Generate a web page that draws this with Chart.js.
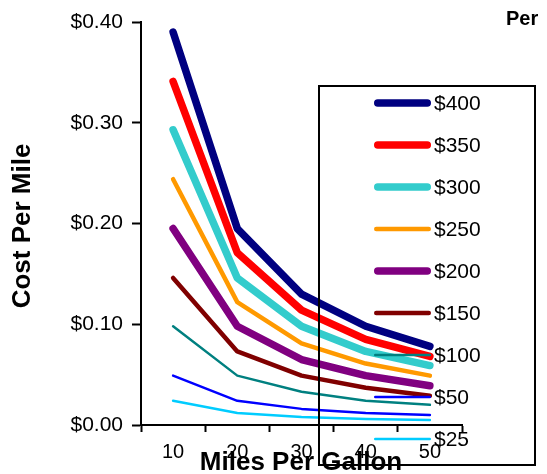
<!DOCTYPE html>
<html>
<head>
<meta charset="utf-8">
<script src="https://cdn.jsdelivr.net/npm/chart.js@4/dist/chart.umd.min.js"></script>
<style>
  html, body { margin: 0; padding: 0; background: #fff; overflow: hidden; }
  canvas { display: block; }
</style>
</head>
<body>
<canvas id="c" width="547" height="474"></canvas>
<script>
// Fuel cost per mile at different fuel prices
const mpgLabels = ['10', '20', '30', '40', '50'];
const priceLabels = ['$400', '$350', '$300', '$250', '$200', '$150', '$100', '$50', '$25'];

const cost400 = [0.390, 0.195, 0.130, 0.098, 0.078];
const cost350 = [0.341, 0.171, 0.114, 0.085, 0.068];
const cost300 = [0.293, 0.146, 0.098, 0.073, 0.059];
const cost250 = [0.244, 0.122, 0.081, 0.061, 0.049];
const cost200 = [0.195, 0.098, 0.065, 0.049, 0.039];
const cost150 = [0.146, 0.073, 0.049, 0.037, 0.029];
const cost100 = [0.098, 0.049, 0.033, 0.024, 0.020];
const cost50  = [0.049, 0.024, 0.016, 0.012, 0.010];
const cost25  = [0.024, 0.012, 0.008, 0.006, 0.005];

const yTickStep = 0.1;
const yMax = 0.4;

const seriesValues = [cost400, cost350, cost300, cost250, cost200, cost150, cost100, cost50, cost25];
const seriesColors = ['#000080', '#FF0000', '#33CCCC', '#FF9900', '#800080', '#800000', '#008080', '#0000FF', '#00CCFF'];
const seriesWidths = [7.5, 7.5, 7.5, 4.5, 7.5, 4.5, 2.5, 2.5, 2.5];

const FONT = "'Liberation Sans', Arial, sans-serif";
Chart.defaults.font.family = FONT;
Chart.defaults.color = '#000';

const datasets = seriesValues.map((vals, i) => ({
  label: priceLabels[i],
  data: vals,
  borderColor: seriesColors[i],
  backgroundColor: seriesColors[i],
  borderWidth: seriesWidths[i],
  borderCapStyle: 'round',
  borderJoinStyle: 'round',
  pointRadius: 0,
  pointHoverRadius: 0,
  tension: 0,
  fill: false
}));

// Axis titles, boxed legend and the heading fragment
const overlay = {
  id: 'overlay',
  afterDraw(chart) {
    const ctx = chart.ctx;
    ctx.save();
    ctx.fillStyle = '#000';

    // y-axis title
    ctx.save();
    ctx.translate(23, 226);
    ctx.rotate(-Math.PI / 2);
    ctx.font = 'bold 26px ' + FONT;
    ctx.textAlign = 'center';
    ctx.textBaseline = 'middle';
    ctx.fillText('Cost Per Mile', 0, 0);
    ctx.restore();

    // x-axis title
    ctx.font = 'bold 26px ' + FONT;
    ctx.textAlign = 'center';
    ctx.textBaseline = 'middle';
    ctx.fillText('Miles Per Gallon', 301, 463);

    // heading fragment
    ctx.font = 'bold 20px ' + FONT;
    ctx.textAlign = 'left';
    ctx.fillText('Per', 506, 19);

    // legend box
    ctx.strokeStyle = '#000';
    ctx.lineWidth = 2;
    ctx.strokeRect(319, 86, 216, 379);

    // legend entries
    ctx.font = '21px ' + FONT;
    ctx.textBaseline = 'middle';
    chart.data.datasets.forEach((ds, i) => {
      const y = 103 + i * 42;
      const w = ds.borderWidth;
      ctx.beginPath();
      ctx.lineCap = 'round';
      ctx.strokeStyle = ds.borderColor;
      ctx.lineWidth = w;
      ctx.moveTo(374 + w / 2, y);
      ctx.lineTo(431 - w / 2, y);
      ctx.stroke();
      ctx.fillStyle = '#000';
      ctx.fillText(ds.label, 434, y + 1);
    });
    ctx.restore();
  }
};

new Chart(document.getElementById('c'), {
  type: 'line',
  data: { labels: mpgLabels, datasets },
  options: {
    responsive: false,
    animation: false,
    devicePixelRatio: 1,
    layout: { padding: { left: 0, top: 22, right: 85, bottom: 0 } },
    plugins: { legend: { display: false }, tooltip: { enabled: false } },
    scales: {
      x: {
        type: 'category',
        offset: true,
        border: { color: '#000', width: 2 },
        grid: { display: true, offset: true, drawOnChartArea: false, drawTicks: true, tickLength: 7, tickColor: '#000', tickWidth: 2 },
        ticks: { font: { size: 20 }, color: '#000', padding: 8, maxRotation: 0, autoSkip: false },
        afterFit(scale) { scale.height = 49; }
      },
      y: {
        min: 0,
        max: yMax,
        border: { color: '#000', width: 2 },
        grid: { display: true, drawOnChartArea: false, drawTicks: true, tickLength: 9, tickColor: '#000', tickWidth: 2 },
        ticks: {
          stepSize: yTickStep,
          font: { size: 21 },
          color: '#000',
          padding: 9,
          callback: v => '$' + Number(v).toFixed(2)
        },
        afterFit(scale) { scale.width = 141; }
      }
    }
  },
  plugins: [overlay]
});
</script>
</body>
</html>
